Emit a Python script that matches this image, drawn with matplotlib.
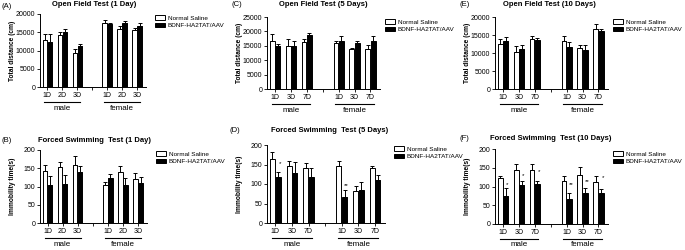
import numpy as np
import matplotlib
matplotlib.use("Agg")
from matplotlib import pyplot as plt
from matplotlib.patches import Patch
from matplotlib.transforms import offset_copy

plt.rcParams['font.family'] = ['Liberation Sans', 'DejaVu Sans']

# x categories: 3 male groups, gap, 3 female groups
groups_1 = ["1D", "2D", "3D"]
groups_n = ["1D", "3D", "7D"]
positions = [0, 1, 2, 4, 5, 6]

# (A) open field, 1 day
of1_ns = [13000, 14200, 9400, 17500, 15900, 15600]
of1_ns_err = [1400, 900, 1100, 800, 900, 700]
of1_bd = [12200, 15000, 11200, 17200, 17600, 16800]
of1_bd_err = [2200, 900, 700, 400, 500, 600]

# (C) open field, 5 days
of5_ns = [16500, 15000, 16300, 15800, 13900, 13800]
of5_ns_err = [2700, 2200, 1000, 700, 500, 1500]
of5_bd = [15000, 15000, 18700, 16700, 16100, 16700]
of5_bd_err = [600, 1500, 900, 1600, 500, 1600]

# (E) open field, 10 days
of10_ns = [12600, 10400, 13900, 13400, 11500, 16700]
of10_ns_err = [1400, 1500, 700, 1300, 700, 1400]
of10_bd = [13200, 11000, 13500, 11800, 10800, 16000]
of10_bd_err = [1200, 1300, 700, 1300, 1500, 800]

# (B) forced swimming, 1 day
fs1_ns = [143, 153, 160, 104, 141, 120]
fs1_ns_err = [17, 13, 24, 7, 14, 16]
fs1_bd = [105, 106, 139, 123, 105, 109]
fs1_bd_err = [24, 25, 16, 12, 17, 16]

# (D) forced swimming, 5 days
fs5_ns = [165, 145, 142, 145, 82, 140]
fs5_ns_err = [16, 15, 13, 13, 12, 6]
fs5_bd = [118, 128, 117, 67, 84, 110]
fs5_bd_err = [12, 29, 23, 17, 20, 14]
fs5_stars = ["*", "", "", "**", "", ""]
fs5_star_y = [152, 0, 0, 97, 0, 0]

# (F) forced swimming, 10 days
fs10_ns = [124, 145, 143, 115, 132, 111]
fs10_ns_err = [5, 15, 17, 14, 20, 16]
fs10_bd = [76, 105, 108, 67, 82, 82]
fs10_bd_err = [20, 9, 8, 17, 14, 12]
fs10_stars = ["*", "*", "*", "**", "**", "*"]
fs10_star_y = [104, 128, 140, 106, 114, 124]

W, H = 685, 250
fig = plt.figure(figsize=(W / 100, H / 100), dpi=100)


def px(x, y):
    return x / W, 1 - y / H


def panel(rect, letter, letter_xy, title, title_xy, ns, ns_err, bd, bd_err,
          ymax, ystep, ylabel, ticklabels, legend_xy, stars=None, star_y=None):
    left, right, top, bottom = rect
    ax = fig.add_axes([left / W, 1 - bottom / H, (right - left) / W, (bottom - top) / H])
    x = np.array(positions, dtype=float)
    ax.bar(x - 0.17, ns, 0.3, color="white", edgecolor="black", linewidth=0.7,
           yerr=[np.zeros(6), ns_err], error_kw=dict(elinewidth=0.7, capsize=1.2, capthick=0.7))
    ax.bar(x + 0.17, bd, 0.3, color="black", edgecolor="black", linewidth=0.7,
           yerr=[np.zeros(6), bd_err], error_kw=dict(elinewidth=0.7, capsize=1.2, capthick=0.7))
    if stars:
        for xi, s, sy in zip(x, stars, star_y):
            if s:
                ax.text(xi + 0.27, sy, s, fontsize=4.5, ha="center", va="center")
    ax.set_xlim(-0.5, 6.6)
    ax.set_ylim(0, ymax)
    ax.set_yticks(np.arange(0, ymax + 1, ystep))
    ax.set_xticks([0, 1, 2, 3, 4, 5, 6])
    ax.set_xticklabels(ticklabels[:3] + [""] + ticklabels[:3])
    ax.tick_params(labelsize=5, length=2, width=0.6, pad=1.5)
    ax.spines[["top", "right"]].set_visible(False)
    ax.spines[["left", "bottom"]].set_linewidth(0.7)
    ax.set_ylabel(ylabel, fontsize=4.8, fontweight="bold")
    ax.yaxis.set_label_coords(-24 / (right - left), 0.5)

    # group underlines and names
    tr_line = offset_copy(ax.get_xaxis_transform(), fig=fig, y=-(15 / 100) * 72, units="points")
    tr_text = offset_copy(ax.get_xaxis_transform(), fig=fig, y=-(21 / 100) * 72, units="points")
    for a, b, name in [(-0.2, 2.2, "male"), (3.8, 6.2, "female")]:
        ax.plot([a, b], [0, 0], color="black", lw=0.8, transform=tr_line, clip_on=False)
        ax.text((a + b) / 2, 0, name, fontsize=5.8, ha="center", va="center", transform=tr_text)

    fig.text(*px(*letter_xy), letter, fontsize=5.5, ha="left", va="center")
    fig.text(*px(*title_xy), title, fontsize=5.5, fontweight="bold", ha="center", va="center")

    handles = [Patch(facecolor="white", edgecolor="black", linewidth=0.7),
               Patch(facecolor="black", edgecolor="black", linewidth=0.7)]
    ax.legend(handles, ["Normal Saline", "BDNF-HA2TAT/AAV"], loc="upper left",
              bbox_to_anchor=px(legend_xy[0], legend_xy[1] - 3), bbox_transform=fig.transFigure,
              frameon=False, fontsize=4.6, handlelength=1.55, handleheight=0.8,
              labelspacing=0.3, handletextpad=0.45, borderpad=0, borderaxespad=0)
    return ax


panel((40, 146, 14, 87), "(A)", (2, 6), "Open Field Test (1 Day)", (94, 5),
      of1_ns, of1_ns_err, of1_bd, of1_bd_err, 20000, 5000, "Total distance (cm)",
      groups_1, (155, 18))
panel((267, 380, 17, 89), "(C)", (231, 5), "Open Field Test (5 Days)", (323, 5),
      of5_ns, of5_ns_err, of5_bd, of5_bd_err, 25000, 5000, "Total distance (cm)",
      groups_n, (385, 22))
panel((495, 608, 17, 89), "(E)", (459, 5), "Open Field Test (10 Days)", (549, 5),
      of10_ns, of10_ns_err, of10_bd, of10_bd_err, 20000, 5000, "Total distance (cm)",
      groups_n, (613, 22))
panel((40, 147, 150, 223), "(B)", (2, 140), "Forced Swimming  Test (1 Day)", (94, 140),
      fs1_ns, fs1_ns_err, fs1_bd, fs1_bd_err, 200, 50, "Immobility time(s)",
      groups_1, (156, 154))
panel((267, 385, 145, 223), "(D)", (229, 131), "Forced Swimming  Test (5 Days)", (330, 131),
      fs5_ns, fs5_ns_err, fs5_bd, fs5_bd_err, 200, 50, "Immobility time(s)",
      groups_n, (394, 149), fs5_stars, fs5_star_y)
panel((495, 608, 149, 224), "(F)", (460, 138), "Forced Swimming  Test (10 Days)", (551, 138),
      fs10_ns, fs10_ns_err, fs10_bd, fs10_bd_err, 200, 50, "Immobility time(s)",
      groups_n, (613, 154), fs10_stars, fs10_star_y)

fig.savefig("out.png", dpi=100)
